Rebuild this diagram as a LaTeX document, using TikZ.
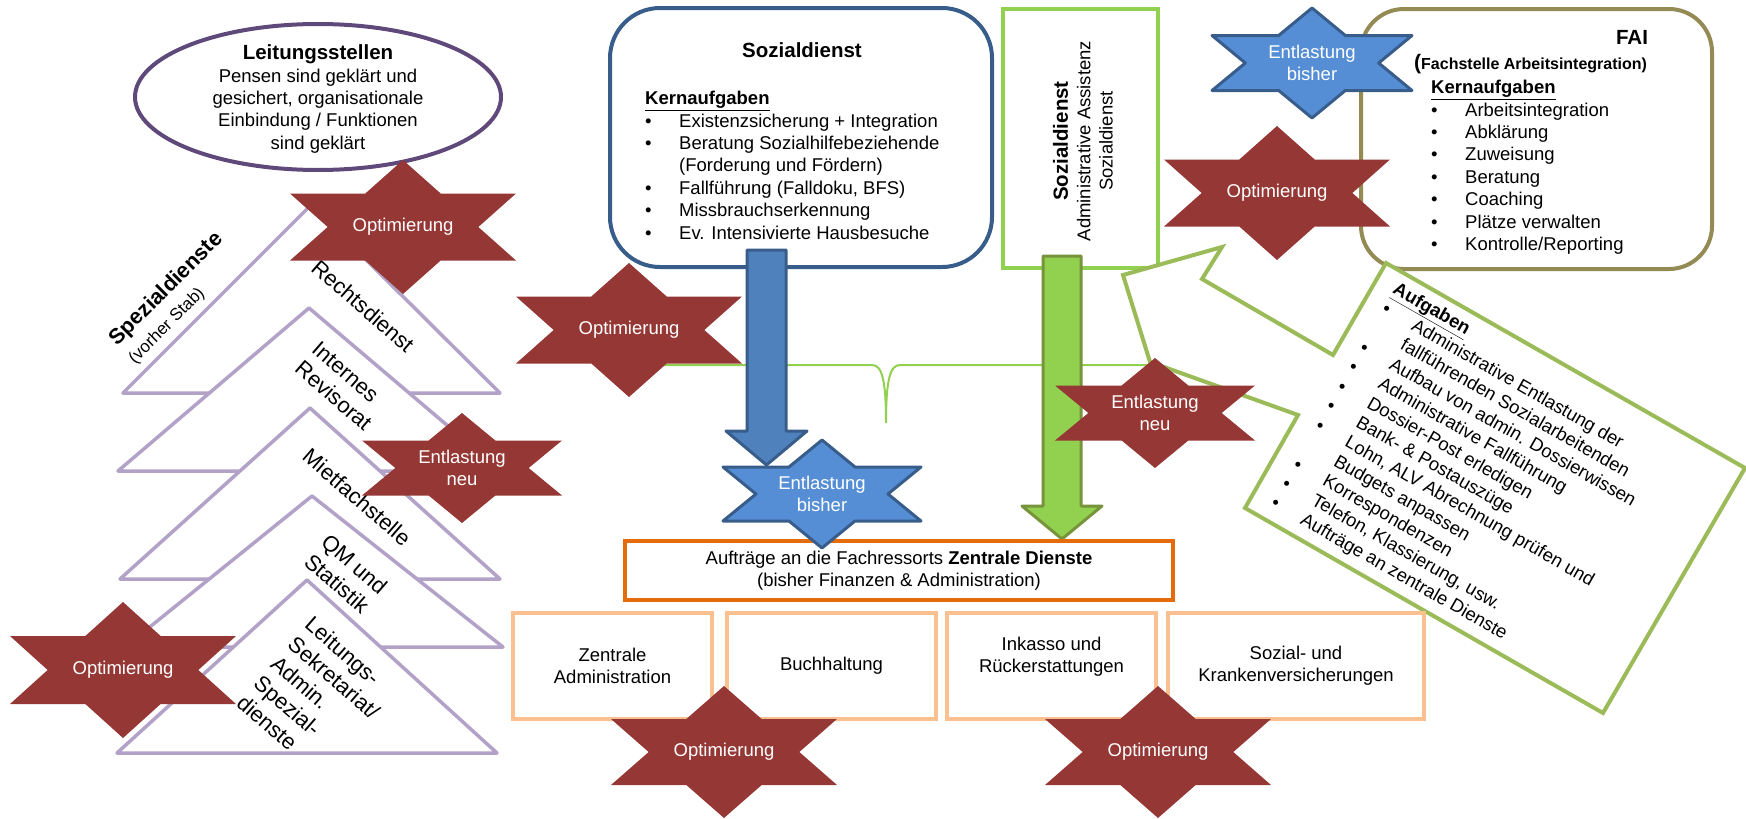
\documentclass[tikz,border=0pt]{standalone}
\usepackage{fontspec}
\setmainfont{Liberation Sans}
\usetikzlibrary{arrows.meta, positioning, shapes.geometric, calc}
\definecolor{DR}{RGB}{149,55,53}
\definecolor{SB}{RGB}{85,142,213}
\definecolor{DB}{RGB}{56,93,138}
\definecolor{AB}{RGB}{79,129,189}
\definecolor{HG}{RGB}{146,208,80}
\definecolor{DGn}{RGB}{119,147,60}
\definecolor{CG}{RGB}{155,187,89}
\definecolor{DP}{RGB}{95,73,122}
\definecolor{LP}{RGB}{179,162,199}
\definecolor{OL}{RGB}{148,138,84}
\definecolor{OR}{RGB}{228,108,10}
\definecolor{LO}{RGB}{250,192,144}

\newcommand{\fs}{\fontsize{18.5}{22.4}\selectfont}
\newcommand{\fb}{\fontsize{20.5}{24}\selectfont\bfseries}
\newcommand{\pkt}{\makebox[34pt][l]{\textbullet}}
\newcommand{\einr}{\hspace*{34pt}}

% star: name, centre, half width, half height, style, text
\newcommand{\stern}[6]{%
  \path[#5, shift={#2}] (0,-#4) -- (#3/3,-#4/2) -- (#3,-#4/2) -- (2*#3/3,0)
    -- (#3,#4/2) -- (#3/3,#4/2) -- (0,#4) -- (-#3/3,#4/2) -- (-#3,#4/2)
    -- (-2*#3/3,0) -- (-#3,-#4/2) -- (-#3/3,-#4/2) -- cycle;
  \node[sterntxt] (#1) at #2 {#6};
}
% block arrow: style, from, to, half shaft, half head, head length
\newcommand{\blockpfeil}[6]{%
  \draw[#1] ($(#2)+(-#4,0)$) -- ($(#3)+(-#4,-#6)$) -- ($(#3)+(-#5,-#6)$) -- (#3)
    -- ($(#3)+(#5,-#6)$) -- ($(#3)+(#4,-#6)$) -- ($(#2)+(#4,0)$) -- cycle;
}

\begin{document}
\begin{tikzpicture}[x=1pt, y=-1pt,
  txt/.style={font=\fs, inner sep=0pt},
  sterntxt/.style={font=\fs, text=white, align=center, inner sep=0pt},
  rot/.style={fill=DR},
  blau/.style={fill=SB, draw=DB, line width=3pt, line join=round},
  dreieck/.style={draw=LP, line width=3.5pt, fill=white, line join=round},
  drtxt/.style={font=\fontsize{22}{26}\selectfont, inner sep=0pt, align=left, rotate=-41},
  rahmen/.style={line width=4pt, minimum width=#1, inner sep=0pt},
  kasten/.style={draw=LO, line width=4pt, minimum width=#1, minimum height=106,
                 font=\fs, align=center, inner sep=0pt},
  pfeilblau/.style={fill=AB, draw=DB, line width=3pt, line join=round},
  pfeilgruen/.style={fill=HG, draw=DGn, line width=3pt, line join=round},
  klammer/.style={draw=HG, line width=2pt},
  hinweis/.style={draw=CG, line width=4pt, fill=white, line join=miter}
]
\useasboundingbox (0,0) rectangle (1746,819);

% Spezialdienste (stacked triangles)
\draw[dreieck] (311,205) -- (500,393) -- (123,393) -- cycle;
\node[drtxt] (recht) at (363,306) {Rechtsdienst};
\node[font=\fontsize{21.6}{25}\selectfont, inner sep=0pt, align=left, rotate=45] (spez) at (175,298)
  {\textbf{Spezialdienste}\\{\fontsize{17}{25}\selectfont(vorher Stab)}};
\draw[dreieck] (309,308) -- (501,471) -- (118,471) -- cycle;
\node[drtxt] (revis) at (342,386) {Internes\\Revisorat};
\draw[dreieck] (310,408) -- (500,579) -- (120,579) -- cycle;
\node[drtxt] (miet) at (357,497) {Mietfachstelle};
\draw[dreieck] (312,496) -- (503,647) -- (125,647) -- cycle;
\node[drtxt] (qm) at (346,574) {QM und\\Statistik};
\draw[dreieck] (307,580) -- (497,753) -- (117,753) -- cycle;
\node[drtxt] (sekr) at (317,697) {Leitungs-\\Sekretariat/\\Admin.\\Spezial-\\dienste};

% Leitungsstellen
\node[ellipse, draw=DP, line width=4pt, minimum width=366, minimum height=146, inner sep=0pt]
  (leitung) at (318,97) {};
\node[txt, align=center] (leittxt) at (318,99)
  {{\fb Leitungsstellen}\\Pensen sind geklärt und\\gesichert, organisationale\\Einbindung / Funktionen\\sind geklärt};

% brace
\draw[klammer] (650,365) -- (872,365) .. controls (882,365) and (886,380) .. (886,423)
  .. controls (886,380) and (890,365) .. (900,365) -- (1148,365);

% Sozialdienst
\node[rahmen=382, draw=DB, rounded corners=50, minimum height=259] (sozial) at (801,137.5) {};
\node[txt, font=\fb] (sozialtitel) at (802,50) {Sozialdienst};
\node[txt, align=left, anchor=north west] (sozialliste) at (645,91)
  {\underline{\textbf{Kernaufgaben}}\\
   \pkt Existenzsicherung + Integration\\
   \pkt Beratung Sozialhilfebeziehende\\
   \einr (Forderung und Fördern)\\
   \pkt Fallführung (Falldoku, BFS)\\
   \pkt Missbrauchserkennung\\
   \pkt Ev. Intensivierte Hausbesuche};

% Administrative Assistenz
\node[rahmen=155, draw=HG, minimum height=259] (admin) at (1080.5,138.5) {};
\node[txt, align=center, rotate=90] (admintxt) at (1083,141)
  {{\fb Sozialdienst}\\Administrative Assistenz\\Sozialdienst};

% FAI
\node[rahmen=351, draw=OL, rounded corners=43, minimum height=260] (fai) at (1536.5,139) {};
\node[txt, font=\fb] (faititel) at (1632,37) {FAI};
\node[txt, anchor=west] (faiunter) at (1414,64)
  {{\fontsize{21}{22}\selectfont\bfseries(}{\fontsize{16}{20}\selectfont\bfseries Fachstelle Arbeitsintegration)}};
\node[txt, align=left, anchor=north west] (failiste) at (1431,80)
  {\underline{\textbf{Kernaufgaben}}\\
   \pkt Arbeitsintegration\\
   \pkt Abklärung\\
   \pkt Zuweisung\\
   \pkt Beratung\\
   \pkt Coaching\\
   \pkt Plätze verwalten\\
   \pkt Kontrolle/Reporting};

% arrows
\coordinate (bA) at (766.5,250);
\coordinate (bB) at (766.5,465);
\coordinate (gA) at (1062,256);
\coordinate (gB) at (1062,539);
\blockpfeil{pfeilblau}{bA}{bB}{19.5}{40.5}{34}
\blockpfeil{pfeilgruen}{gA}{gB}{19}{40}{33}

% Aufgaben callout
\draw[hinweis] (1386,263) -- (1745,468) -- (1603,713) -- (1245,508) -- (1298,415)
  -- (1150,362) -- (1123,275) -- (1222,247) -- (1202,279) -- (1333,355) -- cycle;
\node[txt, align=left, anchor=north west, rotate=-29.7] (aufgaben) at (1398.5,281)
  {\underline{\textbf{Aufgaben}}\\
   \pkt Administrative Entlastung der\\
   \einr fallführenden Sozialarbeitenden\\
   \pkt Aufbau von admin. Dossierwissen\\
   \pkt Administrative Fallführung\\
   \pkt Dossier-Post erledigen\\
   \pkt Bank- \& Postauszüge\\
   \pkt Lohn, ALV Abrechnung prüfen und\\
   \einr Budgets anpassen\\
   \pkt Korrespondenzen\\
   \pkt Telefon, Klassierung, usw.\\
   \pkt Aufträge an zentrale Dienste};

% Zentrale Dienste
\node[rahmen=548, draw=OR, minimum height=59, font=\fs, align=center] (zd) at (899,570.5)
  {Aufträge an die Fachressorts \textbf{Zentrale Dienste}\\(bisher Finanzen \& Administration)};
\node[kasten=199] (zadmin) at (612.5,666) {Zentrale\\Administration};
\node[kasten=209] (buch) at (831.5,666) {Buchhaltung};
\node[kasten=209] (inkasso) at (1051.5,666) {Inkasso und\\Rückerstattungen\\\mbox{}};
\node[kasten=256] (versich) at (1296,666) {Sozial- und\\Krankenversicherungen};

% stars
\stern{opt1}{(403,227)}{113}{67}{rot}{Optimierung}
\stern{neu1}{(462,468)}{100}{55}{rot}{Entlastung\\neu}
\stern{opt2}{(123,670)}{113}{68}{rot}{Optimierung}
\stern{opt3}{(629,330)}{113}{67}{rot}{Optimierung}
\stern{bis1}{(822,494)}{99}{54}{blau}{Entlastung\\bisher}
\stern{neu2}{(1155,413)}{100}{55}{rot}{Entlastung\\neu}
\stern{bis2}{(1312,63)}{100}{55}{blau}{Entlastung\\bisher}
\stern{opt4}{(1277,193)}{113}{67}{rot}{Optimierung}
\stern{opt5}{(724,752)}{113}{66}{rot}{Optimierung}
\stern{opt6}{(1158,752)}{113}{66}{rot}{Optimierung}
\end{tikzpicture}
\end{document}
